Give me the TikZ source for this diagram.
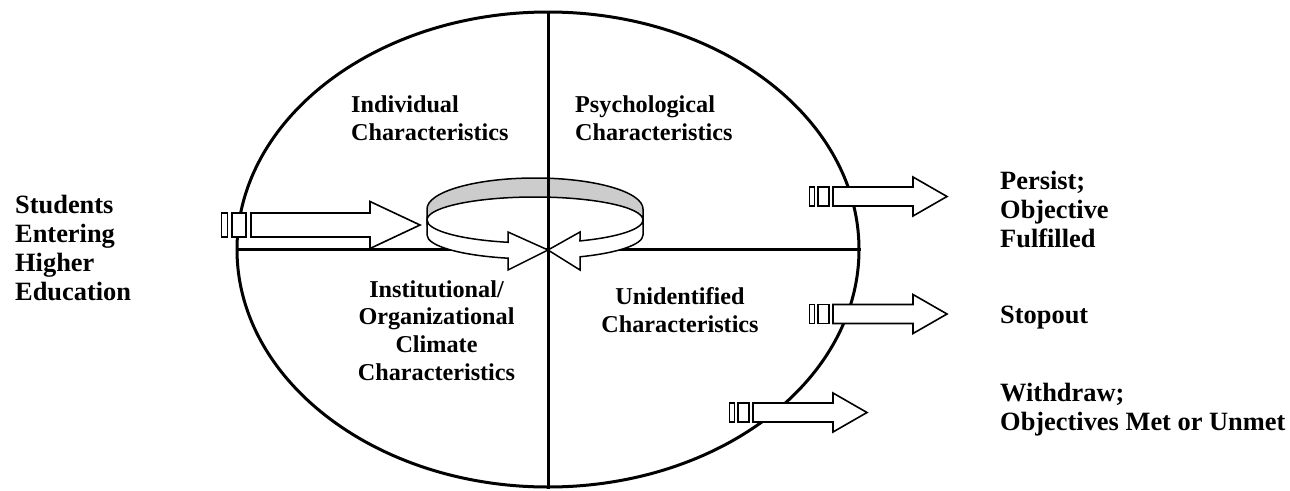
\documentclass[tikz,border=0pt]{standalone}
\usepackage{fontspec}
\setmainfont{Liberation Serif}
\usetikzlibrary{positioning,shapes.geometric}
\definecolor{bandgrey}{gray}{0.8}
\tikzset{
  rim/.style={line width=3pt},
  ring/.style={draw, line width=1.5pt},
  blk/.style={draw, line width=1.6pt, fill=white},
  lbl/.style={font=\bfseries\fontsize{24.2}{27.6}\selectfont, inner sep=0pt, align=center},
  outlbl/.style={font=\bfseries\fontsize{26.4}{29}\selectfont, inner sep=0pt, align=left, anchor=base west},
}
% #1 shaft start, #2 mid y, #3 shaft half, #4 head half, #5 head base, #6 tip
\newcommand\stripedarrow[6]{%
  \draw[blk] ({#1-0.4*#3},{#2-#3}) rectangle ({#1-1.56*#3},{#2+#3});
  \draw[blk] ({#1-1.96*#3},{#2-#3}) rectangle ({#1-2.46*#3},{#2+#3});
  \draw[blk] (#1,{#2-#3}) -- (#5,{#2-#3}) -- (#5,{#2-#4}) -- (#6,#2)
    -- (#5,{#2+#4}) -- (#5,{#2+#3}) -- (#1,{#2+#3}) -- cycle;
}

\begin{document}
\begin{tikzpicture}[x=1pt, y=-1pt]
    \useasboundingbox (0,0) rectangle (1290,490);
    \node[ellipse, rim, draw, inner sep=0pt, minimum width=622pt, minimum height=475pt] (oval) at (548,249.5) {};
    \draw[rim] (oval.west) -- (oval.east);
    % ring
    \draw[ring, fill=bandgrey] (427,209) arc[start angle=180, end angle=360, x radius=108, y radius=31]
      -- (643,220) arc[start angle=0, end angle=-180, x radius=108, y radius=23] -- cycle;
    \draw[ring, fill=white] (427,220) arc[start angle=180, end angle=104.48, x radius=108, y radius=23]
      -- (508,232) -- (548,250) -- (508,270) -- (508,258.2)
      arc[start angle=104.48, end angle=180, x radius=108, y radius=24] -- cycle;
    \draw[ring, fill=white] (643,220) arc[start angle=0, end angle=65.38, x radius=108, y radius=23]
      -- (580,232) -- (548,250) -- (580,270) -- (580,256.8)
      arc[start angle=65.38, end angle=0, x radius=108, y radius=24] -- cycle;
    \draw[rim] (oval.north) -- (oval.south);
    \stripedarrow{251}{225}{12}{23.5}{370}{420}
    \stripedarrow{833}{196.5}{9.5}{19.5}{913}{947}
    \stripedarrow{833}{314}{9.5}{19.5}{913}{947}
    \stripedarrow{753}{412.5}{9.5}{19.5}{833}{867}
    \node[lbl, align=left, anchor=base west] (indiv) at (351,140) {Individual\\Characteristics};
    \node[lbl, align=left, anchor=base west] (psych) at (575,140) {Psychological\\Characteristics};
    \node[lbl, anchor=base] (inst) at (436.5,380) {Institutional/\\Organizational\\Climate\\Characteristics};
    \node[lbl, anchor=base] (unid) at (680,332) {Unidentified\\Characteristics};
    \node[outlbl] (students) at (15,300) {Students\\Entering\\Higher\\Education};
    \node[outlbl] (persist) at (1000,247) {Persist;\\Objective\\Fulfilled};
    \node[outlbl] (stop) at (1000,323) {Stopout};
    \node[outlbl] (withdraw) at (1000,430) {Withdraw;\\Objectives Met or Unmet};
\end{tikzpicture}
\end{document}
